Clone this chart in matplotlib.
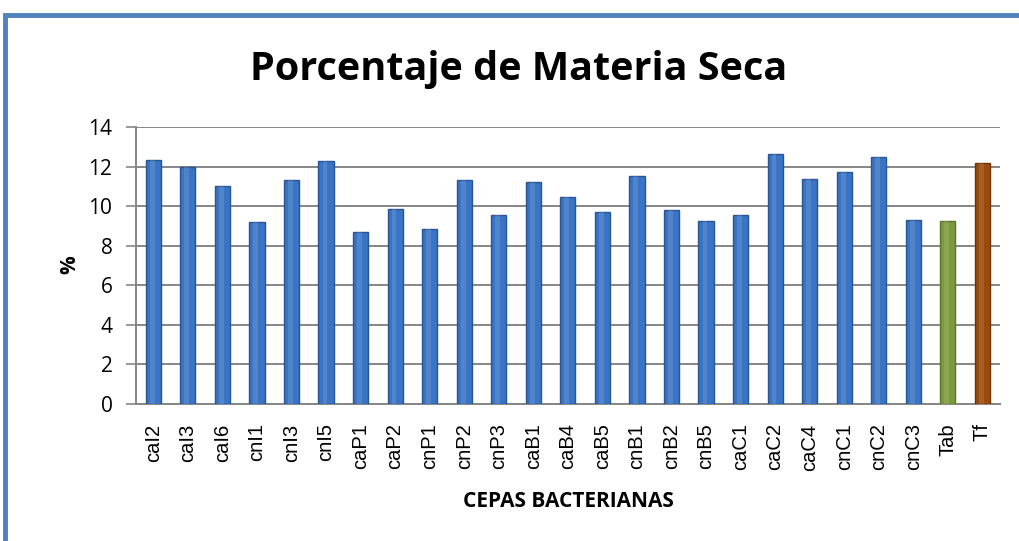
import numpy as np
import matplotlib.pyplot as plt
from matplotlib.patches import Rectangle

# datos
cepas = ['caI2', 'caI3', 'caI6', 'cnI1', 'cnI3', 'cnI5', 'caP1', 'caP2', 'cnP1',
         'cnP2', 'cnP3', 'caB1', 'caB4', 'caB5', 'cnB1', 'cnB2', 'cnB5', 'caC1',
         'caC2', 'caC4', 'cnC1', 'cnC2', 'cnC3', 'Tab', 'Tf']
materia_seca = [12.35, 11.98, 11.03, 9.20, 11.34, 12.27, 8.70, 9.86, 8.87,
                11.34, 9.53, 11.20, 10.44, 9.73, 11.54, 9.83, 9.26, 9.56,
                12.62, 11.39, 11.71, 12.50, 9.32, 9.27, 12.17]
colores = ['#3a74c4'] * 23 + ['#7a9a3c', '#9a4a0a']
bordes = ['#2a5595'] * 23 + ['#5a7628', '#6e3404']

fig = plt.figure(figsize=(10.19, 5.41), dpi=100)
ax = fig.add_axes([0.1335, 0.2532, 0.8475, 0.512])

x = np.arange(len(cepas))
ax.bar(x, materia_seca, width=0.44, color=colores, edgecolor=bordes, linewidth=1.0, zorder=3)
# brillo central para imitar el efecto cilindro
ax.bar(x - 0.03, materia_seca, width=0.14, color='white', alpha=0.12, linewidth=0, zorder=4)

ax.set_xlim(-0.5, len(cepas) - 0.5)
ax.set_ylim(0, 14)
ax.set_yticks(range(0, 15, 2))
ax.set_xticks(x)
ax.set_xticklabels(cepas, rotation=90, fontsize=14.5, family='Liberation Sans')
for t in ax.get_yticklabels():
    t.set_fontsize(15)
    t.set_family('Open Sans')
ax.tick_params(axis='x', length=0, pad=14)
ax.tick_params(axis='y', length=7, width=1.2, color='#868686', pad=10)
ax.yaxis.grid(True, color='#868686', linewidth=1.4, zorder=0)
for s in ['top', 'right']:
    ax.spines[s].set_visible(False)
ax.spines['left'].set_color('#868686')
ax.spines['left'].set_linewidth(1.4)
ax.spines['bottom'].set_color('#868686')
ax.spines['bottom'].set_linewidth(1.4)

fig.text(568 / 1019, 1 - 507 / 541, 'CEPAS BACTERIANAS', ha='center', va='baseline',
         fontsize=15, fontweight='bold', family='Open Sans')
fig.text(70 / 1019, 1 - 265 / 541, '%', ha='center', va='center', rotation=90,
         fontsize=15, fontweight='bold', family='Open Sans')
fig.text(519 / 1019, 1 - 80 / 541, 'Porcentaje de Materia Seca', ha='center', va='baseline',
         fontsize=28.5, fontweight='bold', family='Open Sans')

# marco azul
fig.patches.append(Rectangle((5 / 1019, -0.1), 1.2, (541 - 15) / 541 + 0.1,
                             transform=fig.transFigure, fill=False,
                             edgecolor='#4f81bd', linewidth=3.5))

fig.savefig('out.png', dpi=100)
